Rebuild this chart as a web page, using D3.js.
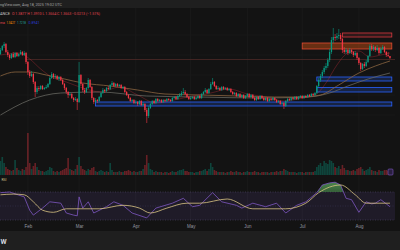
<!DOCTYPE html>
<html>
<head>
<meta charset="utf-8">
<script src="https://cdn.jsdelivr.net/npm/d3@7"></script>
<style>
html, body { margin: 0; padding: 0; background: #131313; overflow: hidden; }
</style>
</head>
<body>
<div id="chart"></div>
<script>
var W = 400, H = 250;

// daily candles, first one is Jan 17 2025
var startDay = new Date(2025, 0, 17);
var firstOpen = 1.41;
var closes = [1.45,1.49,1.51,1.43,1.40,1.37,1.41,1.38,1.42,1.39,
1.41,1.43,1.40,1.42,1.33,1.23,1.19,1.21,1.13,1.03,
1.07,1.06,1.09,1.06,1.07,1.08,1.11,1.17,1.21,1.18,
1.19,1.16,1.18,1.15,1.11,1.07,1.03,1.00,1.01,0.97,
0.95,0.96,0.93,1.20,1.11,1.05,1.03,1.07,1.15,1.08,
0.97,0.93,0.95,0.94,0.98,1.02,1.05,1.04,1.07,1.06,
1.10,1.12,1.09,1.11,1.09,1.10,1.07,1.08,1.03,1.00,
0.97,0.94,0.95,0.92,0.93,0.91,0.94,0.90,0.91,0.85,
0.79,0.87,0.91,0.94,0.92,0.96,0.94,0.95,0.93,0.95,
0.94,0.96,0.95,0.94,0.97,0.98,0.96,0.99,1.00,1.02,
1.03,1.01,0.98,0.96,0.97,0.98,0.96,0.97,0.99,0.97,
1.01,1.03,1.05,1.02,1.06,1.11,1.13,1.09,1.06,1.07,
1.05,1.08,1.06,1.07,1.05,1.06,1.03,1.01,1.02,0.99,
1.01,0.98,1.00,0.97,0.99,1.01,0.98,1.00,0.97,0.95,
0.98,0.96,0.99,0.97,0.95,0.97,0.94,0.96,0.95,0.97,
0.95,0.93,0.94,0.91,0.92,0.89,0.94,0.96,0.95,0.97,
0.96,0.98,0.96,0.98,0.99,0.97,0.99,0.98,1.00,0.99,
1.01,1.00,1.02,1.09,1.15,1.19,1.23,1.27,1.29,1.35,
1.43,1.55,1.58,1.57,1.59,1.60,1.56,1.45,1.43,1.45,
1.42,1.45,1.43,1.40,1.42,1.37,1.32,1.26,1.31,1.29,
1.33,1.39,1.49,1.46,1.48,1.45,1.47,1.42,1.46,1.48,
1.43,1.40,1.39,1.37];
var highs = [1.47,1.50,1.53,1.52,1.45,1.41,1.42,1.43,1.43,1.43,
1.42,1.45,1.44,1.44,1.43,1.34,1.25,1.24,1.22,1.14,
1.09,1.09,1.10,1.10,1.08,1.10,1.12,1.19,1.23,1.22,
1.21,1.20,1.19,1.19,1.16,1.12,1.08,1.04,1.03,1.02,
0.98,0.98,0.97,1.33,1.21,1.12,1.07,1.08,1.17,1.16,
1.09,0.98,0.97,0.96,0.99,1.03,1.07,1.06,1.08,1.09,
1.11,1.14,1.13,1.12,1.12,1.11,1.11,1.09,1.09,1.04,
1.01,0.98,0.96,0.96,0.95,0.94,0.95,0.95,0.93,0.92,
0.87,0.89,0.92,0.95,0.95,0.97,0.97,0.96,0.96,0.96,
0.96,0.97,0.97,0.96,0.98,0.99,0.99,1.00,1.02,1.04,
1.07,1.05,1.02,0.99,0.99,0.99,0.99,0.98,1.00,1.00,
1.02,1.04,1.07,1.06,1.07,1.13,1.17,1.14,1.10,1.09,
1.08,1.09,1.09,1.08,1.08,1.07,1.07,1.04,1.03,1.03,
1.02,1.02,1.01,1.01,1.00,1.02,1.02,1.01,1.01,0.98,
0.99,0.99,1.00,1.00,0.98,0.98,0.98,0.97,0.97,0.98,
0.98,0.96,0.95,0.95,0.93,0.93,0.95,0.97,0.97,0.98,
0.98,0.99,0.99,0.99,1.00,1.00,1.00,1.00,1.01,1.01,
1.02,1.02,1.03,1.10,1.17,1.21,1.25,1.29,1.32,1.37,
1.46,1.58,1.67,1.61,1.62,1.66,1.62,1.57,1.48,1.47,
1.46,1.47,1.46,1.44,1.44,1.43,1.38,1.33,1.32,1.33,
1.35,1.40,1.51,1.51,1.50,1.49,1.50,1.48,1.48,1.50,
1.49,1.44,1.43,1.39];
var lows = [1.40,1.44,1.47,1.42,1.38,1.35,1.36,1.37,1.37,1.38,
1.38,1.40,1.39,1.39,1.31,1.20,1.17,1.18,1.11,0.98,
1.01,1.04,1.05,1.05,1.05,1.06,1.07,1.10,1.16,1.16,
1.16,1.15,1.14,1.14,1.10,1.05,1.01,0.97,0.99,0.96,
0.93,0.94,0.85,0.92,1.09,1.03,1.01,1.02,1.06,1.07,
0.95,0.91,0.92,0.92,0.93,0.97,1.01,1.02,1.03,1.05,
1.05,1.09,1.08,1.08,1.08,1.08,1.06,1.06,1.02,0.99,
0.96,0.93,0.93,0.91,0.91,0.89,0.90,0.89,0.89,0.83,
0.72,0.77,0.86,0.90,0.91,0.91,0.93,0.93,0.92,0.92,
0.93,0.93,0.94,0.93,0.93,0.96,0.95,0.95,0.98,0.99,
1.01,1.00,0.97,0.95,0.95,0.96,0.95,0.95,0.96,0.96,
0.96,1.00,1.02,1.01,1.01,1.05,1.10,1.08,1.05,1.05,
1.04,1.04,1.05,1.05,1.04,1.04,1.02,1.00,1.00,0.98,
0.98,0.97,0.97,0.96,0.96,0.98,0.97,0.97,0.96,0.94,
0.94,0.95,0.95,0.96,0.94,0.94,0.93,0.93,0.94,0.94,
0.94,0.92,0.92,0.90,0.90,0.86,0.88,0.93,0.94,0.94,
0.95,0.95,0.95,0.95,0.97,0.96,0.96,0.97,0.97,0.98,
0.98,0.99,0.99,1.01,1.08,1.13,1.17,1.21,1.25,1.27,
1.33,1.41,1.52,1.54,1.55,1.56,1.54,1.42,1.41,1.41,
1.40,1.41,1.41,1.38,1.39,1.35,1.30,1.24,1.25,1.27,
1.28,1.32,1.38,1.44,1.44,1.43,1.44,1.40,1.41,1.45,
1.42,1.38,1.38,1.36];
var volumes = [14,18,12,8,6,5,4,5,15,7,
5,4,6,5,8,42,12,6,9,12,
8,5,4,4,3,4,5,8,7,4,
3,4,3,4,5,6,7,17,6,5,
4,6,10,18,9,6,5,4,6,5,
7,8,4,3,4,5,4,3,4,3,
12,5,3,3,3,4,3,3,4,4,
5,4,3,4,3,3,4,4,6,10,
20,12,6,5,3,4,3,3,3,2,
3,3,2,3,4,3,3,4,5,5,
6,4,4,3,3,3,2,3,3,4,
4,5,6,4,6,12,8,5,4,3,
3,3,3,2,3,3,4,3,3,4,
3,3,2,3,3,4,3,3,3,4,
3,3,2,3,3,3,3,2,3,3,
3,4,3,4,4,6,5,4,3,3,
3,3,2,3,3,3,2,3,3,3,
3,3,4,8,10,12,9,14,12,11,
15,14,12,8,7,9,6,10,7,5,
5,4,4,5,4,6,7,8,6,4,
5,6,8,5,4,4,3,5,4,4,
5,5,4,3];

// moving averages: [day index, price]
var maOrange = [[0,1.19],[8,1.23],[16,1.23],[25,1.20],[35,1.16],[45,1.12],[60,1.09],[75,1.05],[90,1.01],[109,1.00],[130,0.99],[150,0.98],[165,0.98],[175,1.00],[185,1.10],[196,1.22],[205,1.29],[213,1.34]];
var maGrey = [[0,0.80],[16,0.95],[33,1.02],[54,1.03],[80,0.99],[109,0.98],[141,0.97],[168,0.98],[180,1.02],[190,1.09],[201,1.16],[213,1.22]];
var maRed = [[0,1.40],[10,1.42],[16,1.36],[22,1.26],[28,1.18],[36,1.13],[45,1.07],[55,1.03],[65,1.08],[75,1.00],[85,0.92],[95,0.95],[105,0.99],[115,1.02],[125,1.06],[135,1.01],[145,0.98],[155,0.94],[165,0.97],[172,1.00],[178,1.12],[184,1.30],[190,1.42],[196,1.44],[202,1.38],[208,1.40],[213,1.42]];

// RSI and its average: [day index, value]
var rsi = [[0,69],[5,70],[13,63],[16,44],[18,37],[23,47],[27,56],[33,54],[36,40],[40,37],[42,36],[43,63],[45,47],[48,56],[51,40],[58,49],[62,56],[67,51],[72,40],[80,33],[85,47],[94,54],[100,61],[105,49],[109,51],[116,69],[121,56],[129,51],[132,47],[138,54],[145,49],[151,54],[156,40],[162,51],[167,56],[173,69],[176,80],[180,83],[183,84],[186,80],[189,61],[192,59],[196,41],[200,56],[203,53],[205,54],[208,59],[213,49]];
var rsiMa = [[0,66],[7,67],[13,66],[18,56],[23,44],[29,41],[36,46],[44,46],[54,46],[67,51],[76,47],[82,40],[91,47],[102,54],[109,54],[124,60],[138,46],[156,46],[167,54],[174,69],[186,80],[194,66],[200,54],[213,54]];

// drawn zones: start day, top, bottom, kind
var zoneStart = [187, 165, 173, 173, 52];
var zoneTop = [1.62, 1.52, 1.18, 1.075, 0.93];
var zoneBottom = [1.58, 1.46, 1.14, 1.03, 0.89];
var zoneKind = ['red', 'orange', 'blue', 'blue', 'blue'];
var zoneEnd = 214;
var levelPrice = 1.355, levelStart = 14;

var dayDate = (i) => d3.timeDay.offset(startDay, i);
var candles = closes.map((c, i) => ({
    date: dayDate(i), open: i ? closes[i - 1] : firstOpen,
    high: highs[i], low: lows[i], close: c, vol: volumes[i]
}));

var green = '#089981', red = '#f23645';

var svg = d3.select('#chart').append('svg').attr('width', W).attr('height', H)
    .style('display', 'block').style('font-family', 'Roboto, sans-serif');

svg.append('rect').attr('width', W).attr('height', H).attr('fill', '#131313');
svg.append('rect').attr('width', W).attr('height', 8).attr('fill', '#1f1f1f');
svg.append('rect').attr('y', 231).attr('width', W).attr('height', 19).attr('fill', '#1f1f1f');

var x = d3.scaleTime()
    .domain([new Date(2025, 0, 16, 18), new Date(2025, 7, 20, 18)])
    .range([0, 395]);
var y = d3.scaleLinear().domain([0.68, 1.70]).range([127, 25]);
var yVol = d3.scaleLinear().domain([0, 45]).range([175, 130]);
var yRsi = d3.scaleLinear().domain([30, 70]).range([220, 192]);

// grid
svg.append('g').selectAll('line').data(x.ticks(d3.timeMonth.every(1))).enter().append('line')
    .attr('x1', (d) => x(d)).attr('x2', (d) => x(d)).attr('y1', 8).attr('y2', 222)
    .attr('stroke', '#1c1c1c').attr('stroke-width', 0.8);
svg.append('g').selectAll('line').data([1.6, 1.4, 1.2, 1.0, 0.8]).enter().append('line')
    .attr('x1', 0).attr('x2', 395).attr('y1', (d) => y(d)).attr('y2', (d) => y(d))
    .attr('stroke', '#1a1a1a').attr('stroke-width', 0.8);

// zones
var zoneFill = { red: 'rgba(242,54,69,0.12)', orange: 'rgba(190,75,20,0.5)', blue: 'rgba(41,98,255,0.2)' };
var zoneStroke = { red: '#d8393f', orange: '#e04a30', blue: '#2962ff' };
svg.append('g').selectAll('rect').data(zoneStart).enter().append('rect')
    .attr('x', (d) => x(dayDate(d)))
    .attr('width', (d) => x(dayDate(zoneEnd)) - x(dayDate(d)))
    .attr('y', (d, i) => y(zoneTop[i]))
    .attr('height', (d, i) => y(zoneBottom[i]) - y(zoneTop[i]))
    .attr('fill', (d, i) => zoneFill[zoneKind[i]])
    .attr('stroke', (d, i) => zoneStroke[zoneKind[i]])
    .attr('stroke-width', 0.8);

svg.append('line')
    .attr('x1', x(dayDate(levelStart))).attr('x2', 395)
    .attr('y1', y(levelPrice)).attr('y2', y(levelPrice))
    .attr('stroke', '#4e2a27').attr('stroke-width', 0.8);

// moving averages
var maLine = d3.line().x((d) => x(dayDate(d[0]))).y((d) => y(d[1])).curve(d3.curveMonotoneX);
svg.append('path').attr('d', maLine(maGrey)).attr('fill', 'none').attr('stroke', '#66665f').attr('stroke-width', 0.8);
svg.append('path').attr('d', maLine(maOrange)).attr('fill', 'none').attr('stroke', '#8a6440').attr('stroke-width', 0.8);
svg.append('path').attr('d', maLine(maRed)).attr('fill', 'none').attr('stroke', 'rgba(242,54,69,0.4)').attr('stroke-width', 0.7);

// candles
var bodyW = 1.3;
var cg = svg.append('g');
cg.selectAll('line').data(candles).enter().append('line')
    .attr('x1', (d) => x(d.date)).attr('x2', (d) => x(d.date))
    .attr('y1', (d) => y(d.high)).attr('y2', (d) => y(d.low))
    .attr('stroke', (d) => d.close >= d.open ? green : red).attr('stroke-width', 0.6);
cg.selectAll('rect').data(candles).enter().append('rect')
    .attr('x', (d) => x(d.date) - bodyW / 2).attr('width', bodyW)
    .attr('y', (d) => y(Math.max(d.open, d.close)))
    .attr('height', (d) => Math.max(0.6, Math.abs(y(d.open) - y(d.close))))
    .attr('fill', (d) => d.close >= d.open ? green : red);

// volume
svg.append('g').selectAll('rect').data(candles).enter().append('rect')
    .attr('x', (d) => x(d.date) - 0.8).attr('width', 1.6)
    .attr('y', (d) => yVol(d.vol)).attr('height', (d) => yVol(0) - yVol(d.vol))
    .attr('fill', (d) => d.close >= d.open ? 'rgba(8,153,129,0.38)' : 'rgba(242,54,69,0.38)');
svg.append('rect').attr('x', 388).attr('y', 169).attr('width', 5).attr('height', 6).attr('rx', 1)
    .attr('fill', '#2a1f40').attr('stroke', '#7e57c2').attr('stroke-width', 0.6);

// RSI pane
svg.append('rect').attr('x', 0).attr('width', 395).attr('y', yRsi(70)).attr('height', yRsi(30) - yRsi(70))
    .attr('fill', 'rgba(126,87,194,0.12)');
svg.append('g').selectAll('line').data([70, 50, 30]).enter().append('line')
    .attr('x1', 0).attr('x2', 395).attr('y1', (d) => yRsi(d)).attr('y2', (d) => yRsi(d))
    .attr('stroke', (d) => d === 50 ? '#3a3550' : '#4e4868').attr('stroke-width', 0.6)
    .attr('stroke-dasharray', '1,1.5');

var defs = svg.append('defs');
var grad = defs.append('linearGradient').attr('id', 'ob').attr('x1', 0).attr('x2', 0).attr('y1', 0).attr('y2', 1);
grad.append('stop').attr('offset', '0%').attr('stop-color', '#5fae63').attr('stop-opacity', 0.75);
grad.append('stop').attr('offset', '100%').attr('stop-color', '#1f5f24').attr('stop-opacity', 0.1);
defs.append('clipPath').attr('id', 'above70').append('rect')
    .attr('x', 0).attr('y', 176).attr('width', 395).attr('height', yRsi(70) - 176);
var obArea = d3.area().x((d) => x(dayDate(d[0]))).y0(yRsi(70)).y1((d) => yRsi(d[1]));
svg.append('path').attr('d', obArea(rsi)).attr('fill', 'url(#ob)').attr('clip-path', 'url(#above70)');

var rsiLine = d3.line().x((d) => x(dayDate(d[0]))).y((d) => yRsi(d[1]));
svg.append('path').attr('d', rsiLine(rsi)).attr('fill', 'none').attr('stroke', '#7e57c2').attr('stroke-width', 0.8);
svg.append('path').attr('d', rsiLine.curve(d3.curveMonotoneX)(rsiMa)).attr('fill', 'none')
    .attr('stroke', '#d9c483').attr('stroke-width', 0.8);

// time axis
svg.append('g').attr('transform', 'translate(0,222)')
    .call(d3.axisBottom(x).ticks(d3.timeMonth.every(1)).tickFormat(d3.timeFormat('%b')).tickSize(0).tickPadding(3))
    .call((g) => g.select('.domain').remove())
    .selectAll('text').attr('fill', '#9598a1').style('font-size', '4.5px');

// header texts
var txt = (s, tx, ty, col, len, size) => svg.append('text').attr('x', tx).attr('y', ty)
    .attr('fill', col).style('font-size', size + 'px')
    .attr('textLength', len).attr('lengthAdjust', 'spacingAndGlyphs').text(s);
txt('ngView.com, Aug 18, 2025 19:02 UTC', 0, 5.6, '#a8a8a8', 62, 3.4);
txt('ANCE', 0, 14.5, '#c8c8c8', 10, 3.4);
txt('O 1.3877  H 1.3910  L 1.3664  C 1.3663  \u22120.0213 (\u22121.51%)', 12, 14.5, '#e0454f', 88, 3.3);
txt('ma', 0, 23.5, '#e0454f', 5, 3);
txt('1.3427', 6.5, 23.5, '#ff9800', 8.5, 2.7);
txt('1.7218', 17, 23.5, '#26a69a', 9, 2.7);
txt('0.8941', 28.5, 23.5, '#2a3bd0', 11, 2.7);
txt('RSI', 1.5, 181, '#d8cc90', 5, 3);
svg.append('text').attr('x', 0.5).attr('y', 244).attr('fill', '#d1d4dc')
    .style('font-size', '7px').style('font-weight', 'bold').text('W');
</script>
</body>
</html>
